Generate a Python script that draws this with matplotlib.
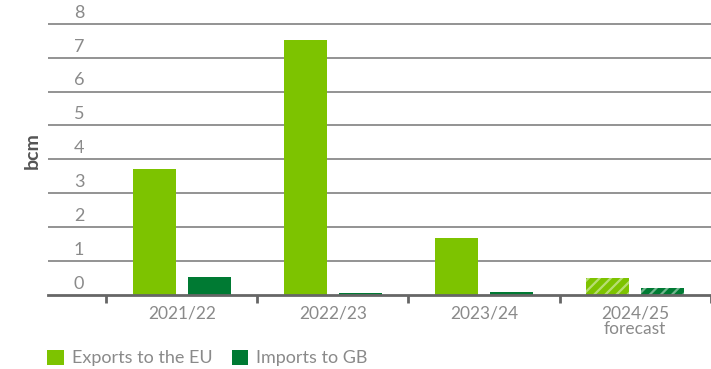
import matplotlib
matplotlib.use("Agg")
import matplotlib.pyplot as plt
import matplotlib.transforms as mtransforms
from matplotlib.patches import Patch
import numpy as np

plt.rcParams['font.family'] = ['Lato', 'DejaVu Sans']
plt.rcParams['hatch.linewidth'] = 1.6

years = ["2021/22", "2022/23", "2023/24", "2024/25\nforecast"]
exports_eu = [3.72, 7.53, 1.68, 0.50]
imports_gb = [0.52, 0.06, 0.09, 0.20]
forecast = [False, False, False, True]
y_ticks = [0, 1, 2, 3, 4, 5, 6, 7, 8]

c_eu = "#7dc300"
c_gb = "#007a33"
grid_c = "#8a8a8a"
text_c = "#8a8a8a"

fig = plt.figure(figsize=(7.11, 3.69), dpi=100)
ax = fig.add_axes([48 / 711, 74 / 369, 663 / 711, 272 / 369])

x = np.arange(len(years))
w = 0.285
for i in x:
    hatch = "///" if forecast[i] else None
    ax.bar(i - 0.18, exports_eu[i], w, color=c_eu, hatch=hatch,
           edgecolor=(1, 1, 1, 0.45) if forecast[i] else c_eu, linewidth=0, zorder=3)
    ax.bar(i + 0.18, imports_gb[i], w, color=c_gb, hatch=hatch,
           edgecolor=(1, 1, 1, 0.45) if forecast[i] else c_gb, linewidth=0, zorder=3)

ax.set_xlim(-0.887, 3.503)
ax.set_ylim(0, 8.02)

# horizontal gridlines, labels sit just above each line
for v in y_ticks[1:]:
    ax.axhline(v, color=grid_c, linewidth=1.3, zorder=1)
trans = mtransforms.blended_transform_factory(fig.transFigure, ax.transData)
for v in y_ticks:
    ax.text(74 / 711, v + 0.09, str(v), transform=trans, ha="left", va="bottom",
            fontsize=13, color=text_c)

for s in ["top", "right", "left"]:
    ax.spines[s].set_visible(False)
ax.spines["bottom"].set_color("#666666")
ax.spines["bottom"].set_linewidth(2)
ax.spines["bottom"].set_zorder(4)

ax.set_yticks([])
ax.set_xticks(np.arange(-0.5, len(years), 1.0))
ax.set_xticklabels([])
ax.tick_params(axis="x", length=6, width=2, color="#666666")
for i, lab in enumerate(years):
    ax.text(i, -0.3, lab, ha="center", va="top", fontsize=12.5, color=text_c,
            linespacing=0.95)

fig.text(32 / 711, 1 - 151 / 369, "bcm", rotation=90, ha="center", va="center",
         fontsize=14, fontweight="bold", color="#555555")

handles = [Patch(facecolor=c_eu, label="Exports to the EU"),
           Patch(facecolor=c_gb, label="Imports to GB")]
leg = fig.legend(handles=handles, loc="center left", bbox_to_anchor=(31 / 711, 1 - 358 / 369),
                 ncol=2, frameon=False, handlelength=0.9, handleheight=0.9,
                 handletextpad=0.45, columnspacing=1.1, fontsize=13)
for t in leg.get_texts():
    t.set_color(text_c)

fig.savefig("out.png", dpi=100)
